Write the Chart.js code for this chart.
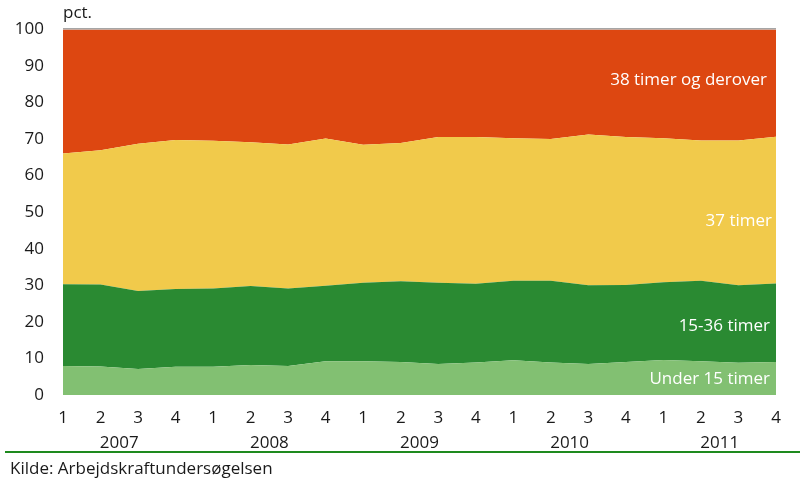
<!DOCTYPE html>
<html>
<head>
<meta charset="utf-8">
<script src="https://cdn.jsdelivr.net/npm/chart.js@4/dist/chart.umd.min.js"></script>
<style>
  html, body { margin: 0; padding: 0; background: #fff; }
  #wrap { width: 805px; height: 482px; }
</style>
</head>
<body>
<div id="wrap"><canvas id="AreaChart" width="805" height="482"></canvas></div>
<script>
// kvartaler 2007-2011
var quarters = ["1","2","3","4","1","2","3","4","1","2","3","4","1","2","3","4","1","2","3","4"];
var years = ["2007", "2008", "2009", "2010", "2011"];

// andel af beskæftigede (pct.)
var under15 = [7.9, 7.8, 7.1, 7.7, 7.7, 8.2, 7.9, 9.2, 9.2, 9.0, 8.5, 8.9, 9.5, 8.9, 8.5, 9.0, 9.6, 9.2, 8.8, 9.0];
var t15_36  = [22.4, 22.4, 21.3, 21.3, 21.4, 21.6, 21.2, 20.7, 21.5, 22.1, 22.2, 21.5, 21.7, 22.3, 21.5, 21.1, 21.2, 22.0, 21.2, 21.5];
var t37     = [35.7, 36.7, 40.3, 40.7, 40.4, 39.3, 39.4, 40.2, 37.7, 37.8, 39.8, 40.1, 39.0, 38.8, 41.2, 40.4, 39.4, 38.4, 39.6, 40.1];
var t38plus = [34.0, 33.1, 31.3, 30.3, 30.5, 30.9, 31.5, 29.9, 31.6, 31.1, 29.5, 29.5, 29.8, 30.0, 28.8, 29.5, 29.8, 30.4, 30.4, 29.4];

var seriesNames = ["Under 15 timer", "15-36 timer", "37 timer", "38 timer og derover"];
var FONT = "'Open Sans', sans-serif";

// tekster, årstal, linjer rundt om plottet
var extras = {
  id: "extras",
  afterDraw: function(chart) {
    var c = chart.ctx, a = chart.chartArea, x = chart.scales.x, y = chart.scales.y;
    c.save();
    // grå linje øverst
    c.strokeStyle = "#a6a6a6";
    c.lineWidth = 1.5;
    c.beginPath(); c.moveTo(a.left, a.top - 0.5); c.lineTo(a.right, a.top - 0.5); c.stroke();

    c.fillStyle = "#1a1a1a";
    c.font = "17px " + FONT;
    c.textBaseline = "middle";
    c.textAlign = "left";
    c.fillText("pct.", a.left, 13);

    // årstal under kvartalerne
    c.textAlign = "center";
    years.forEach(function(yr, i) {
      var px = (x.getPixelForValue(i * 4 + 1) + x.getPixelForValue(i * 4 + 2)) / 2;
      c.fillText(yr, px, 443);
    });

    // grøn streg og kilde
    c.strokeStyle = "#1e8a1e";
    c.lineWidth = 2;
    c.beginPath(); c.moveTo(5, 452); c.lineTo(800, 452); c.stroke();
    c.textAlign = "left";
    c.fillText("Kilde: Arbejdskraftundersøgelsen", 10, 469);

    // serienavne i felterne
    c.fillStyle = "#ffffff";
    c.textAlign = "right";
    c.fillText(seriesNames[3], 767, 80);
    c.fillText(seriesNames[2], 772, 221);
    c.fillText(seriesNames[1], 770, 326);
    c.fillText(seriesNames[0], 770, 379);
    c.restore();
  }
};

function area(label, data, color, fill) {
  return {
    label: label,
    data: data,
    backgroundColor: color,
    borderColor: color,
    borderWidth: 0,
    pointRadius: 0,
    tension: 0,
    fill: fill
  };
}

var ctx = document.getElementById("AreaChart");
var chart = new Chart(ctx, {
  type: "line",
  data: {
    labels: quarters,
    datasets: [
      area(seriesNames[0], under15, "#82c072", "origin"),
      area(seriesNames[1], t15_36, "#2a8a32", "-1"),
      area(seriesNames[2], t37, "#f1ca4b", "-1"),
      area(seriesNames[3], t38plus, "#dd4711", "-1")
    ]
  },
  options: {
    responsive: false,
    animation: false,
    layout: { padding: { left: 0, top: 29, right: 29, bottom: 57 } },
    plugins: {
      legend: { display: false },
      tooltip: { enabled: false }
    },
    scales: {
      x: {
        offset: false,
        grid: { display: false, drawTicks: false },
        border: { display: false },
        ticks: { color: "#1a1a1a", font: { family: FONT, size: 17 }, padding: 13, maxRotation: 0, autoSkip: false },
        afterFit: function(s) { s.height = 30; }
      },
      y: {
        stacked: true,
        min: 0,
        max: 100,
        grid: { display: false, drawTicks: false },
        border: { display: false },
        ticks: { stepSize: 10, color: "#1a1a1a", font: { family: FONT, size: 17 }, padding: 19 },
        afterFit: function(s) { s.width = 63; }
      }
    }
  },
  plugins: [extras]
});
</script>
</body>
</html>
